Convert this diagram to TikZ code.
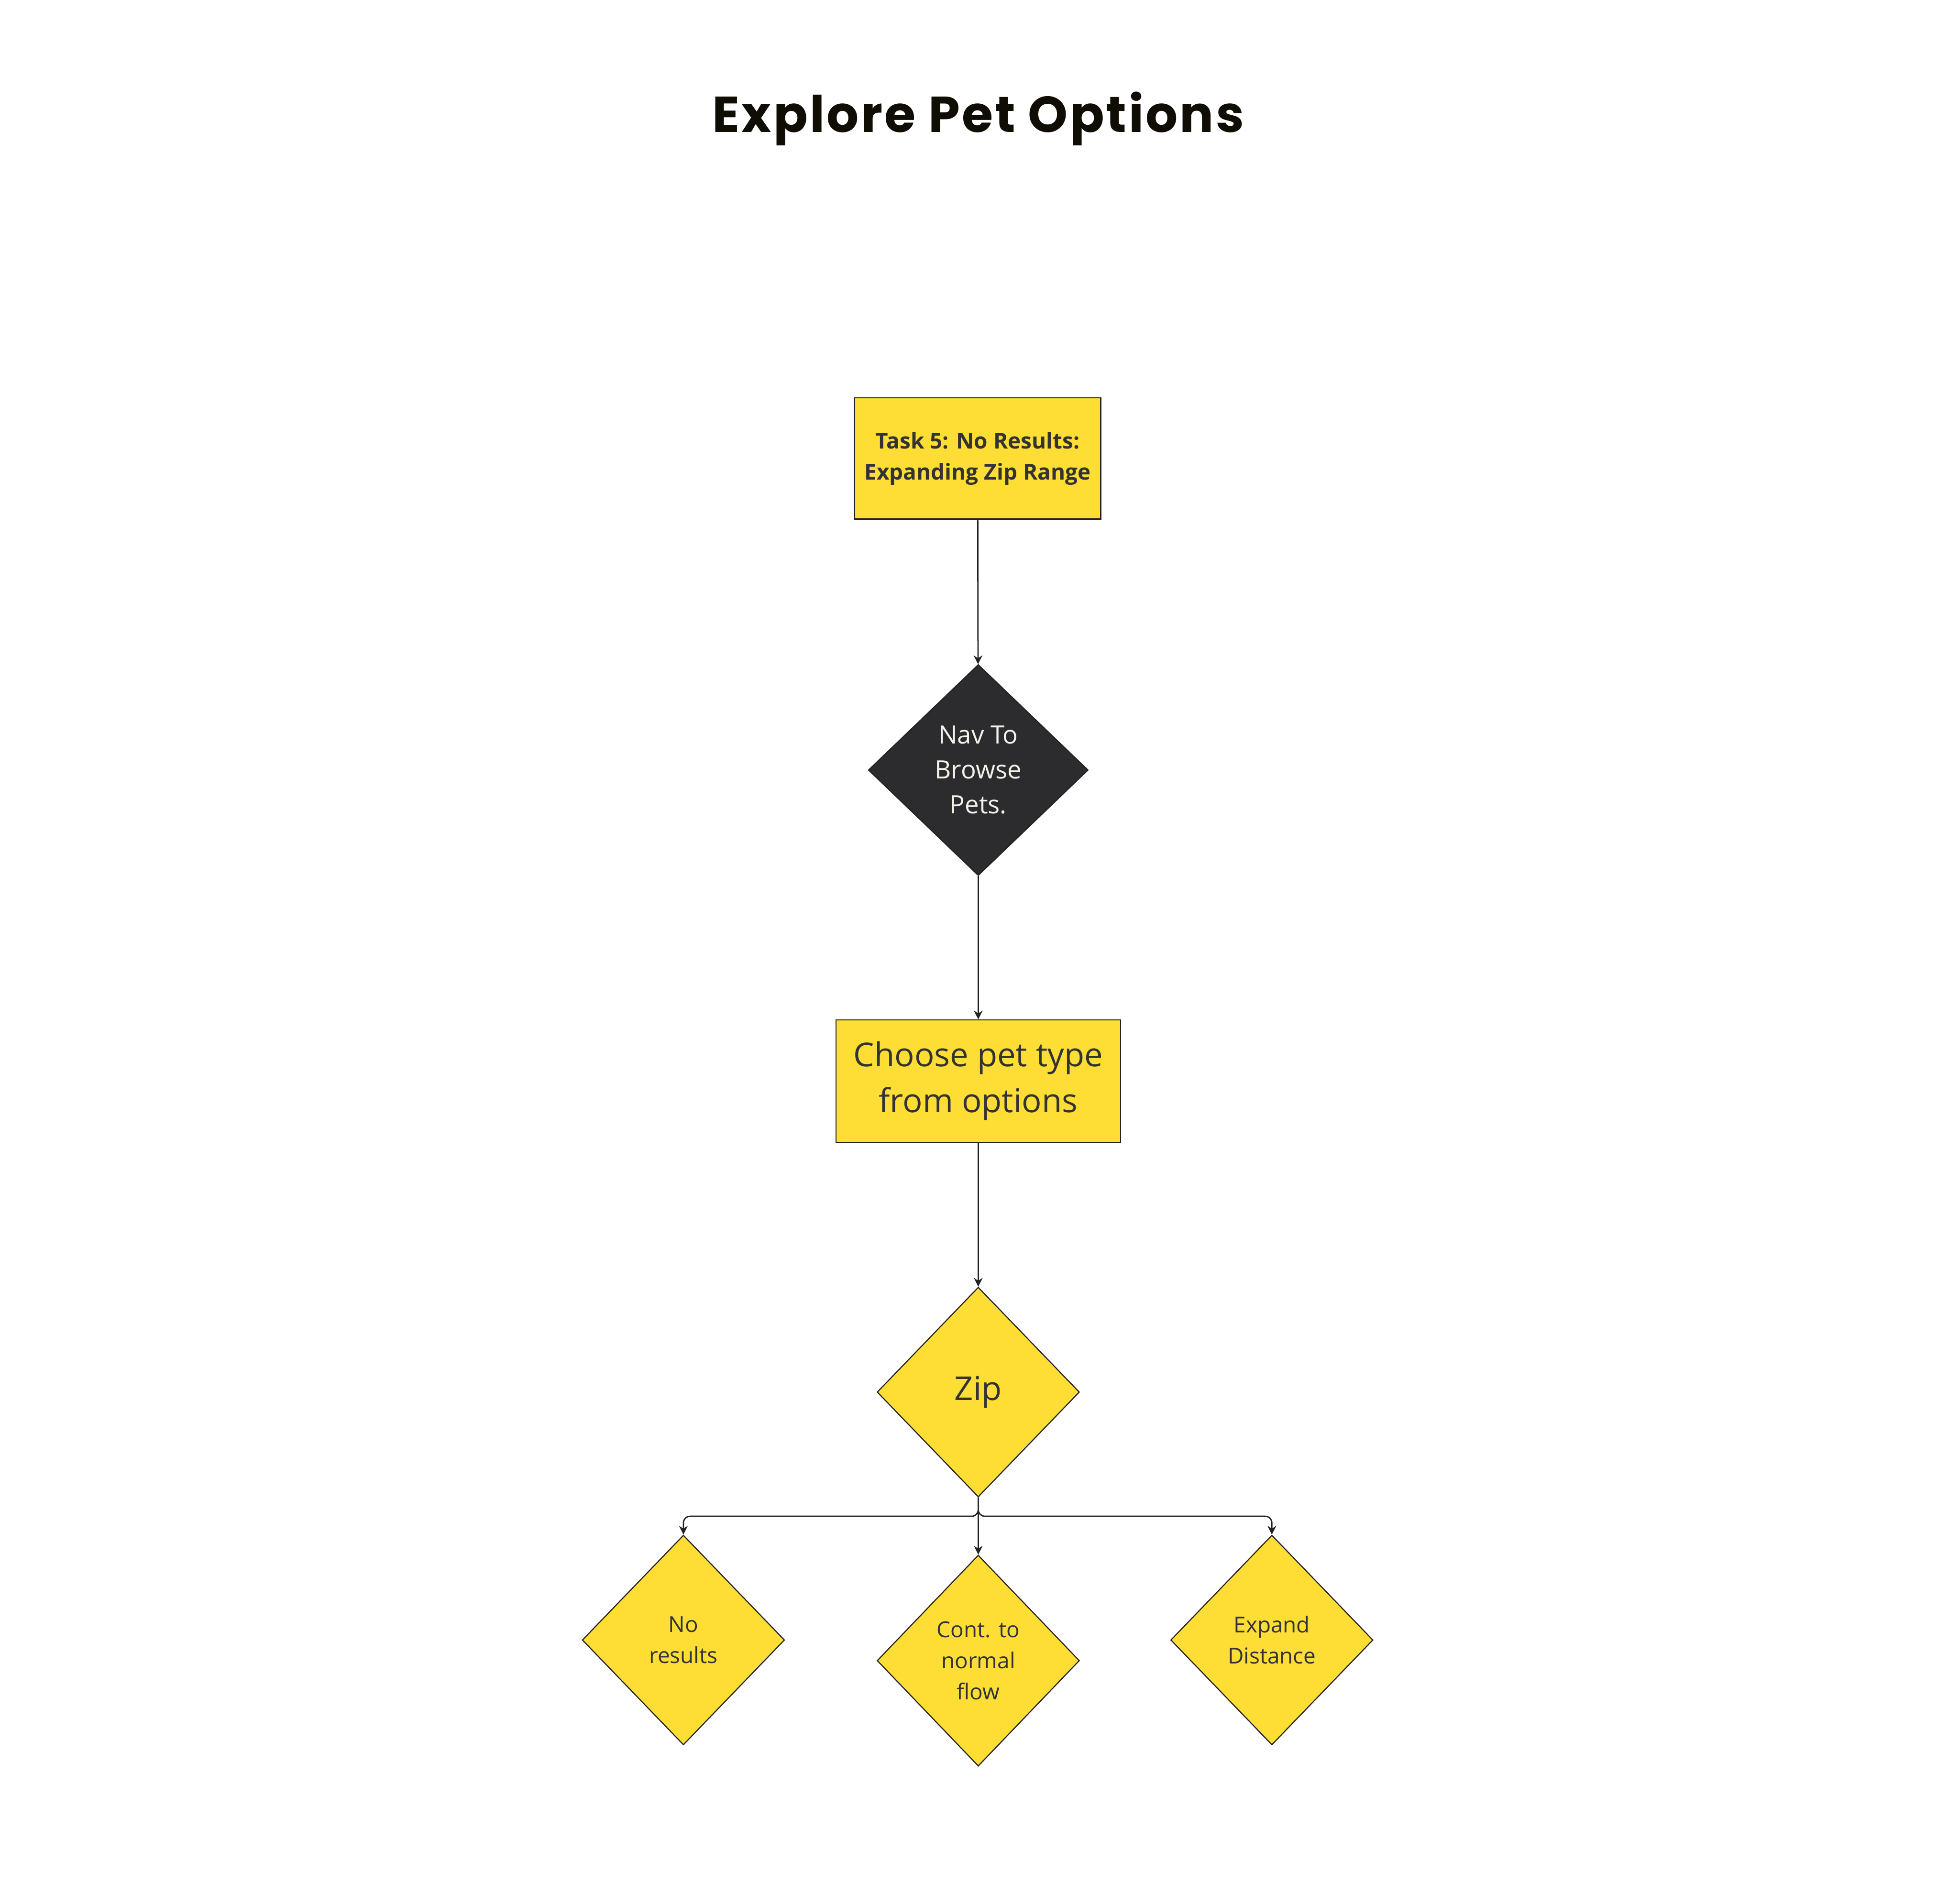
\documentclass[tikz,border=0pt]{standalone}
\usepackage{fontspec}
\setmainfont{Open Sans}
\newfontfamily\titlefont{Poppins}[LetterSpace=4]
\usepackage{tikz}
\usetikzlibrary{shapes.geometric,arrows.meta,positioning}

\definecolor{petyellow}{HTML}{FEDD35}
\definecolor{petdark}{HTML}{2C2C2F}
\definecolor{pettext}{HTML}{333333}
\definecolor{petwhite}{HTML}{F4F1EA}
\definecolor{petline}{HTML}{222222}

\begin{document}
\begin{tikzpicture}[x=0.02cm, y=-0.02cm,
	box/.style={draw=petline, line width=0.5pt, fill=petyellow, text=pettext, align=center, inner sep=0pt},
	dia/.style={diamond, draw=petline, line width=0.5pt, fill=petyellow, text=pettext, align=center, inner sep=0pt, minimum width=3.24cm, minimum height=3.36cm},
	flow/.style={draw=petline, line width=0.6pt, -{Stealth[length=1.4mm, width=1.4mm]}}]
	\useasboundingbox (0,0) rectangle (1568,1524);

	\node (title) at (783,106) [anchor=base] {\titlefont\bfseries\fontsize{23}{27}\selectfont\color[HTML]{100D05}Explore Pet Options};

	\node (task) at (782.5,367) [box, minimum width=3.94cm, minimum height=1.94cm, font=\bfseries\fontsize{10}{14.2}\selectfont] {Task 5: No Results:\\Expanding Zip Range};
	\node (nav) at (783,616.5) [dia, fill=petdark, text=petwhite, minimum width=3.52cm, minimum height=3.38cm, font=\fontsize{11.5}{15.9}\selectfont] {Nav To\\Browse\\Pets.};
	\node (choose) at (783,865.5) [box, minimum width=4.56cm, minimum height=1.96cm, font=\fontsize{15}{21}\selectfont] {Choose pet type\\from options};
	\node (zip) at (783,1114.5) [dia, font=\fontsize{15}{21}\selectfont] {Zip};

	\node (nores) at (547,1313) [dia, font=\fontsize{10}{14.2}\selectfont] {No\\results};
	\node (cont) at (783,1329.5) [dia, minimum height=3.38cm, font=\fontsize{10}{14.2}\selectfont] {Cont. to\\normal\\flow};
	\node (expand) at (1018,1313) [dia, font=\fontsize{10}{14.2}\selectfont] {Expand\\Distance};

	\draw [flow] (task) -- (nav);
	\draw [flow] (nav) -- (choose);
	\draw [flow] (choose) -- (zip);
	\draw [flow, rounded corners=3pt] (zip.south) -- ++(0,15) -| (nores.north);
	\draw [flow, rounded corners=3pt] (zip.south) -- ++(0,15) -| (expand.north);
	\draw [flow] (zip.south) -- (cont.north);
\end{tikzpicture}
\end{document}
